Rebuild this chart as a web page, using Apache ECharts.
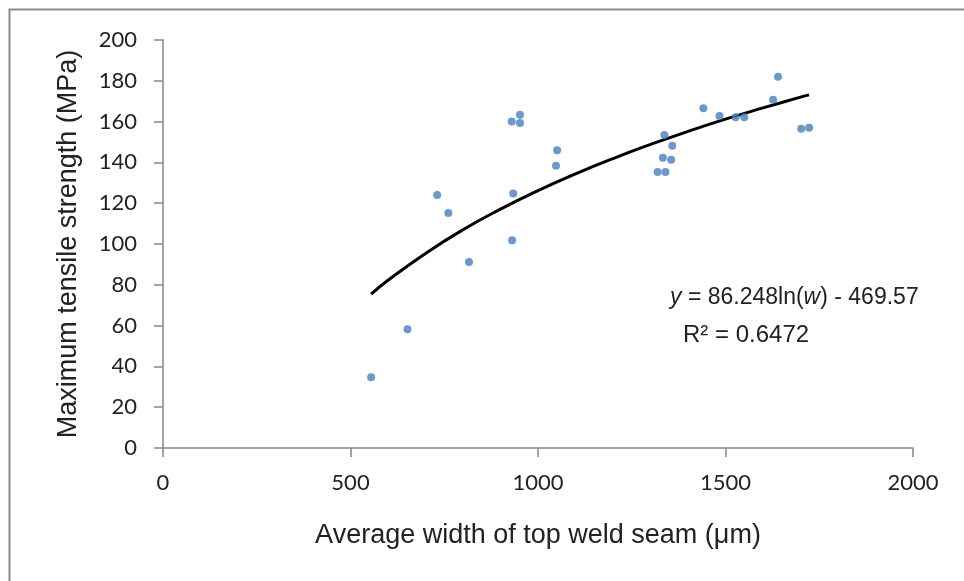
<!DOCTYPE html>
<html>
<head>
<meta charset="utf-8">
<script src="https://cdn.jsdelivr.net/npm/echarts@6/dist/echarts.min.js"></script>
<style>
  html, body { margin: 0; padding: 0; background: #fff; }
  #chart { width: 964px; height: 581px; }
</style>
</head>
<body>
<div id="chart"></div>
<script>
// measured points: width (µm) / strength (MPa)
const widths = [555, 652, 731, 761, 816, 931, 934, 930, 952, 952, 1051, 1048,
  1337, 1333, 1319, 1340, 1358, 1355, 1441, 1484, 1527, 1550, 1627, 1640, 1702, 1723];
const strengths = [34.7, 58.2, 124, 115.2, 91.2, 101.8, 124.7, 160.1, 163.4, 159.3, 145.9, 138.4,
  153.4, 142.3, 135.3, 135.3, 148.2, 141.3, 166.5, 162.7, 162.1, 162.1, 170.7, 182, 156.5, 157];

// log trendline
const trendX = [555, 600, 700, 800, 900, 1000, 1100, 1200, 1300, 1400, 1500, 1600, 1700, 1723];
const trendY = [75.4, 82.2, 95.4, 107, 117.1, 126.2, 134.4, 141.9, 148.8, 155.2, 161.2, 166.7, 172, 173.1];

const eqText = '{i|y} = 86.248ln({i|w}) - 469.57';
const r2Text = 'R² = 0.6472';

const axisGray = '#868686';
const tickFont = 'Lato, "Open Sans", sans-serif';
const titleFont = '"Liberation Sans", Arial, sans-serif';

const chart = echarts.init(document.getElementById('chart'));

chart.setOption({
  animation: false,
  backgroundColor: '#fff',
  grid: { left: 163, right: 51, top: 40, bottom: 133 },
  xAxis: {
    type: 'value',
    min: 0,
    max: 2000,
    interval: 500,
    name: 'Average width of top weld seam (μm)',
    nameLocation: 'middle',
    nameGap: 74,
    nameTextStyle: { fontFamily: titleFont, fontSize: 27, color: '#222' },
    axisLine: { show: true, lineStyle: { color: axisGray, width: 1.5 } },
    axisTick: { show: true, inside: false, length: 9, lineStyle: { color: axisGray, width: 1.5 } },
    axisLabel: { fontFamily: tickFont, fontSize: 22, color: '#222', margin: 24, formatter: (v) => String(v) },
    splitLine: { show: false }
  },
  yAxis: {
    type: 'value',
    min: 0,
    max: 200,
    interval: 20,
    name: 'Maximum tensile strength (MPa)',
    nameLocation: 'middle',
    nameRotate: 90,
    nameGap: 81,
    nameTextStyle: { fontFamily: titleFont, fontSize: 27, color: '#222' },
    axisLine: { show: true, lineStyle: { color: axisGray, width: 1.5 } },
    axisTick: { show: true, inside: false, length: 9, lineStyle: { color: axisGray, width: 1.5 } },
    axisLabel: { fontFamily: tickFont, fontSize: 22, color: '#222', margin: 26 },
    splitLine: { show: false }
  },
  series: [
    {
      type: 'scatter',
      symbol: 'circle',
      symbolSize: 8,
      itemStyle: { color: '#4a7ebb' },
      data: widths.map((w, i) => [w, strengths[i]]),
      z: 3
    },
    {
      type: 'line',
      smooth: true,
      showSymbol: false,
      lineStyle: { color: '#000', width: 3 },
      data: trendX.map((w, i) => [w, trendY[i]]),
      z: 2
    }
  ],
  graphic: [
    {
      type: 'rect',
      shape: { x: 9.5, y: 9.5, width: 1000, height: 1000 },
      style: { fill: 'none', stroke: '#8a8a8a', lineWidth: 2 },
      silent: true
    },
    {
      type: 'text',
      left: 670,
      top: 286,
      style: {
        text: eqText,
        font: '23px "Liberation Sans", Arial, sans-serif',
        fill: '#222',
        rich: {
          i: { fontStyle: 'italic', fontSize: 23, fontFamily: titleFont, fill: '#222' }
        }
      }
    },
    {
      type: 'text',
      left: 683,
      top: 323,
      style: {
        text: r2Text,
        font: '24px "Liberation Sans", Arial, sans-serif',
        fill: '#222'
      }
    }
  ]
});
</script>
</body>
</html>
